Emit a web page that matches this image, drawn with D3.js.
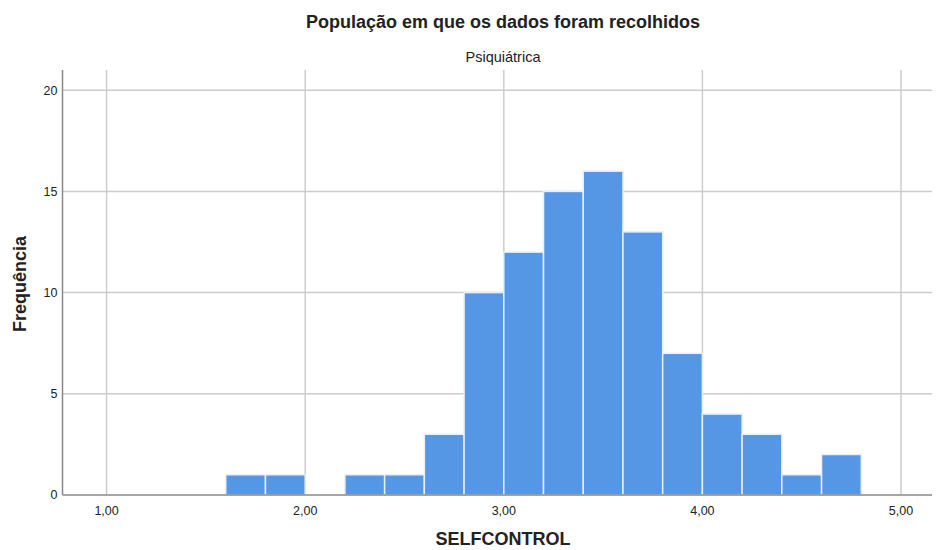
<!DOCTYPE html>
<html>
<head>
<meta charset="utf-8">
<script src="https://cdn.jsdelivr.net/npm/d3@7"></script>
<style>
  body { margin: 0; background: #fff; }
  text { font-family: Arial, "Liberation Sans", sans-serif; fill: #222; }
</style>
</head>
<body>
<svg></svg>
<script>
// histogram bins (lower edge, width 0.2) and counts
const binStarts = [1.6, 1.8, 2.0, 2.2, 2.4, 2.6, 2.8, 3.0, 3.2, 3.4, 3.6, 3.8, 4.0, 4.2, 4.4, 4.6];
const counts = [1, 1, 0, 1, 1, 3, 10, 12, 15, 16, 13, 7, 4, 3, 1, 2];
const binWidth = 0.2;
const xTicks = [1, 2, 3, 4, 5];
const yTicks = [0, 5, 10, 15, 20];

const width = 937, height = 550;
const margin = { top: 70, right: 5, bottom: 55, left: 62.5 };

const svg = d3.select("svg").attr("width", width).attr("height", height);

const x = d3.scaleLinear().domain([0.778, 5.156]).range([margin.left, width - margin.right]);
const y = d3.scaleLinear().domain([0, 21]).range([height - margin.bottom, margin.top]);

const fmt = (d) => d3.format(".2f")(d).replace(".", ",");

// grid
svg.append("g")
  .selectAll("line")
  .data(yTicks.slice(1))
  .enter()
  .append("line")
  .attr("x1", margin.left).attr("x2", width - margin.right)
  .attr("y1", (d) => y(d)).attr("y2", (d) => y(d))
  .attr("stroke", "#cccccc").attr("stroke-width", 1.5);

svg.append("g")
  .selectAll("line")
  .data(xTicks)
  .enter()
  .append("line")
  .attr("x1", (d) => x(d)).attr("x2", (d) => x(d))
  .attr("y1", margin.top).attr("y2", y(0))
  .attr("stroke", "#cccccc").attr("stroke-width", 1.5);

// bars
svg.append("g")
  .selectAll("rect")
  .data(binStarts.map((b, i) => ({ b, c: counts[i] })).filter((d) => d.c > 0))
  .enter()
  .append("rect")
  .attr("x", (d) => x(d.b))
  .attr("width", (d) => x(d.b + binWidth) - x(d.b))
  .attr("y", (d) => y(d.c))
  .attr("height", (d) => y(0) - y(d.c))
  .attr("fill", "#5596e5")
  .attr("stroke", "#e6effb")
  .attr("stroke-width", 1.5);

// axis lines
svg.append("line")
  .attr("x1", margin.left).attr("x2", margin.left)
  .attr("y1", margin.top).attr("y2", y(0))
  .attr("stroke", "#888").attr("stroke-width", 1.5);
svg.append("line")
  .attr("x1", margin.left).attr("x2", width - margin.right)
  .attr("y1", y(0)).attr("y2", y(0))
  .attr("stroke", "#888").attr("stroke-width", 1.5);

// tick labels
svg.append("g")
  .selectAll("text")
  .data(yTicks)
  .enter()
  .append("text")
  .attr("x", margin.left - 5)
  .attr("y", (d) => y(d))
  .attr("dy", "0.35em")
  .attr("text-anchor", "end")
  .style("font-size", "12.5px")
  .text((d) => d);

svg.append("g")
  .selectAll("text")
  .data(xTicks)
  .enter()
  .append("text")
  .attr("x", (d) => x(d))
  .attr("y", y(0) + 20)
  .attr("text-anchor", "middle")
  .style("font-size", "12.5px")
  .text(fmt);

// titles
svg.append("text")
  .attr("x", 503).attr("y", 28)
  .attr("text-anchor", "middle")
  .style("font-size", "18px").style("font-weight", "bold")
  .text("População em que os dados foram recolhidos");

svg.append("text")
  .attr("x", 503).attr("y", 62)
  .attr("text-anchor", "middle")
  .style("font-size", "14.5px")
  .text("Psiquiátrica");

svg.append("text")
  .attr("x", 503).attr("y", 545)
  .attr("text-anchor", "middle")
  .style("font-size", "18px").style("font-weight", "bold")
  .text("SELFCONTROL");

svg.append("text")
  .attr("transform", "translate(26, 284) rotate(-90)")
  .attr("text-anchor", "middle")
  .style("font-size", "18px").style("font-weight", "bold")
  .text("Frequência");
</script>
</body>
</html>
